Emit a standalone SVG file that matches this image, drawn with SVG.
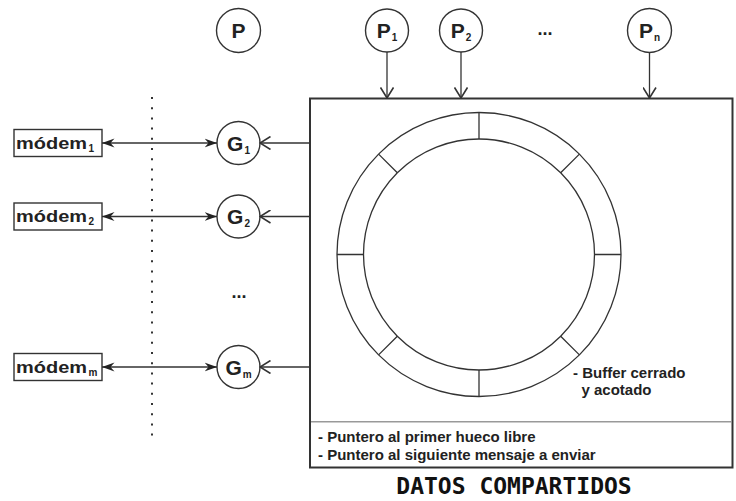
<svg xmlns="http://www.w3.org/2000/svg" width="736" height="501" viewBox="0 0 736 501">
<style>
.node{fill:#fff;stroke:#333;stroke-width:1.4}
.lbl{font-family:"Liberation Sans",Arial,sans-serif;font-weight:bold;fill:#222}
.big{font-size:21px}
.sub{font-size:10px}
.mod{font-size:17px}
.note{font-size:15px}
.conn{stroke:#333;stroke-width:1.3;fill:none}
.ring{stroke:#333;stroke-width:1.3;fill:none}
</style>
<defs>
<marker id="openV" viewBox="0 0 12 14" refX="11" refY="7" markerWidth="12" markerHeight="14" orient="auto" markerUnits="userSpaceOnUse">
<path d="M0.5,0.5 L11,7 L0.5,13.5" fill="none" stroke="#333" stroke-width="1.6"/>
</marker>
<marker id="barb" viewBox="0 0 13 10" refX="12.5" refY="5" markerWidth="13" markerHeight="10" orient="auto-start-reverse" markerUnits="userSpaceOnUse">
<path d="M0,0.5 L12.5,5 L0,9.5 L4,5 Z" fill="#222"/>
</marker>
</defs>
<rect width="736" height="501" fill="#fff"/>

<g id="datos">
<rect x="310" y="98.5" width="422.5" height="369" fill="#fff" stroke="#333" stroke-width="2"/>
<line x1="311" y1="421.7" x2="731.5" y2="421.7" stroke="#999" stroke-width="1.5"/>
<text class="lbl note" x="318" y="442">- Puntero al primer hueco libre</text>
<text class="lbl note" x="318" y="460">- Puntero al siguiente mensaje a enviar</text>
</g>

<g id="buffer">
<circle class="ring" cx="479" cy="254.5" r="142"/>
<circle class="ring" cx="479" cy="254.5" r="115.5"/>
<path class="ring" stroke-width="1.5" d="M594.5,254.5 L621,254.5 M363.5,254.5 L337,254.5 M479,139 L479,112.5 M479,370 L479,396.5 M560.67,172.83 L579.41,154.09 M397.33,172.83 L378.59,154.09 M560.67,336.17 L579.41,354.91 M397.33,336.17 L378.59,354.91"/>
<text class="lbl note" x="573" y="377.5">- Buffer cerrado</text>
<text class="lbl note" x="581.5" y="395">y acotado</text>
</g>

<g id="P">
<circle class="node" cx="238.5" cy="30.5" r="22"/>
<text class="lbl big" x="238.5" y="38" text-anchor="middle">P</text>
</g>
<g id="P1">
<circle class="node" cx="387" cy="30.5" r="21.5"/>
<text class="lbl big" x="387" y="38" text-anchor="middle">P<tspan class="sub" dx="1" dy="3">1</tspan></text>
</g>
<g id="P2">
<circle class="node" cx="461" cy="30.5" r="21.5"/>
<text class="lbl big" x="461" y="38" text-anchor="middle">P<tspan class="sub" dx="1" dy="3">2</tspan></text>
</g>
<g id="Pdots">
<text class="lbl" font-size="18" x="545" y="35" text-anchor="middle">...</text>
</g>
<g id="Pn">
<circle class="node" cx="649.5" cy="30.5" r="22"/>
<text class="lbl big" x="649.5" y="38" text-anchor="middle">P<tspan class="sub" dx="1" dy="3">n</tspan></text>
</g>

<g id="G1">
<circle class="node" cx="238.5" cy="143" r="21.5"/>
<text class="lbl big" x="238.5" y="150.5" text-anchor="middle">G<tspan class="sub" dx="1" dy="3">1</tspan></text>
</g>
<g id="G2">
<circle class="node" cx="238.5" cy="216.5" r="21.5"/>
<text class="lbl big" x="238.5" y="224" text-anchor="middle">G<tspan class="sub" dx="1" dy="3">2</tspan></text>
</g>
<g id="Gdots">
<text class="lbl" font-size="18" x="239" y="298" text-anchor="middle">...</text>
</g>
<g id="Gm">
<circle class="node" cx="238.5" cy="367" r="21.5"/>
<text class="lbl big" x="238.5" y="374.5" text-anchor="middle">G<tspan class="sub" dx="1" dy="3">m</tspan></text>
</g>

<g id="modem1">
<rect x="14" y="129.5" width="88" height="27" fill="#fff" stroke="#333" stroke-width="1.4"/>
<text class="lbl mod" x="16" y="148.5"><tspan textLength="71" lengthAdjust="spacingAndGlyphs">módem</tspan><tspan class="sub" dx="1.5" dy="3">1</tspan></text>
</g>
<g id="modem2">
<rect x="14" y="203" width="88" height="27" fill="#fff" stroke="#333" stroke-width="1.4"/>
<text class="lbl mod" x="16" y="222"><tspan textLength="71" lengthAdjust="spacingAndGlyphs">módem</tspan><tspan class="sub" dx="1.5" dy="3">2</tspan></text>
</g>
<g id="modemm">
<rect x="14" y="353.5" width="88" height="27" fill="#fff" stroke="#333" stroke-width="1.4"/>
<text class="lbl mod" x="16" y="372.5"><tspan textLength="71" lengthAdjust="spacingAndGlyphs">módem</tspan><tspan class="sub" dx="1.5" dy="3">m</tspan></text>
</g>

<g id="title">
<text x="514" y="494" text-anchor="middle" font-family="'DejaVu Sans Mono',monospace" font-weight="bold" font-size="23" fill="#111">DATOS COMPARTIDOS</text>
</g>

<g id="connectors">
<line x1="152" y1="97" x2="152" y2="436" stroke="#333" stroke-width="2" stroke-dasharray="2 8.2"/>
<line class="conn" x1="387" y1="52" x2="387" y2="98" marker-end="url(#openV)"/>
<line class="conn" x1="461" y1="52" x2="461" y2="98" marker-end="url(#openV)"/>
<line class="conn" x1="649.5" y1="52.5" x2="649.5" y2="98" marker-end="url(#openV)"/>
<line class="conn" x1="310" y1="143" x2="260" y2="143" marker-end="url(#openV)"/>
<line class="conn" x1="310" y1="216.5" x2="260" y2="216.5" marker-end="url(#openV)"/>
<line class="conn" x1="310" y1="367" x2="260" y2="367" marker-end="url(#openV)"/>
<line class="conn" x1="102" y1="143" x2="217" y2="143" marker-start="url(#barb)" marker-end="url(#barb)"/>
<line class="conn" x1="102" y1="216.5" x2="217" y2="216.5" marker-start="url(#barb)" marker-end="url(#barb)"/>
<line class="conn" x1="102" y1="367" x2="217" y2="367" marker-start="url(#barb)" marker-end="url(#barb)"/>
</g>
</svg>
